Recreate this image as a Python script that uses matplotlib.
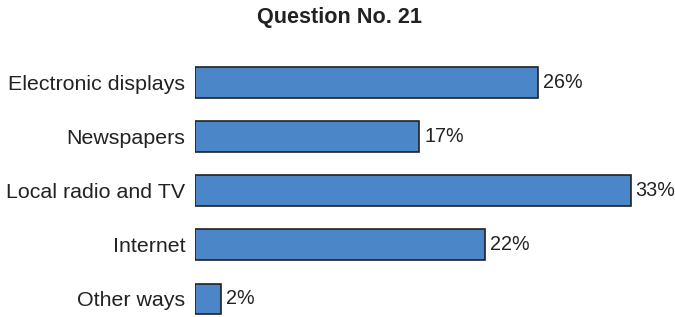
import matplotlib
matplotlib.use("Agg")
import matplotlib.pyplot as plt

categories = ["Electronic displays", "Newspapers", "Local radio and TV", "Internet", "Other ways"]
values = [26, 17, 33, 22, 2]
title = "Question No. 21"

plt.rcParams['font.family'] = ['Liberation Sans', 'DejaVu Sans']

W, H = 675, 317
fig = plt.figure(figsize=(W / 100, H / 100), dpi=100)
left_px, right_px = 195, 195 + 13.2 * 36
top_px, bot_px = 60, 317
ax = fig.add_axes([left_px / W, 1 - bot_px / H, (right_px - left_px) / W, (bot_px - top_px) / H])

ypos = list(range(len(categories)))
ax.barh(ypos, values, height=0.57, color="#4a86c8", edgecolor="#222222", linewidth=1.2)
for y, v in zip(ypos, values):
    ax.text(v + 0.35, y, f"{v}%", va="center", ha="left", fontsize=14.2, color="#222222")

ax.set_xlim(0, 36)
ax.set_ylim(4 + (317 - 299) / 54.1, -(82.5 - 60) / 54.1)
ax.set_yticks(ypos)
ax.set_yticklabels(categories, fontsize=15.4, color="#222222")
ax.tick_params(axis="y", length=0, pad=7)
ax.set_xticks([])
for s in ax.spines.values():
    s.set_visible(False)

fig.text(340 / W, 1 - 18 / H, title, ha="center", va="center", fontsize=15.6, fontweight="bold", color="#222222")

fig.savefig("out.png", dpi=100)
